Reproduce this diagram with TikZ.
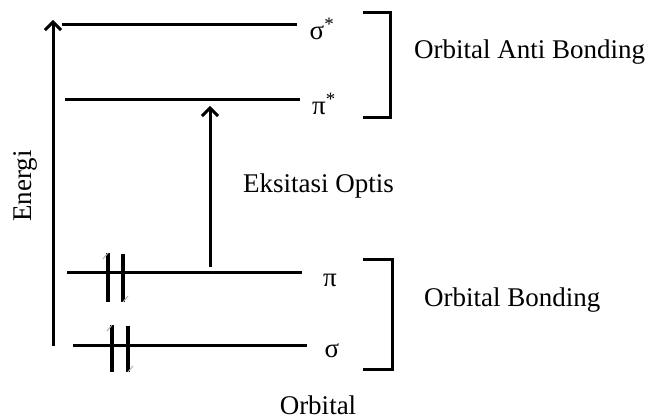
\documentclass[tikz,border=0pt]{standalone}
\usepackage{fontspec}
\setmainfont{Liberation Serif}
\usetikzlibrary{arrows.meta}
\begin{document}
\begin{tikzpicture}[x=1pt,y=-1pt,
  level/.style={line width=3pt},
  spin/.style={line width=3.5pt},
  hook/.style={line width=1pt,gray!60},
  brack/.style={line width=3pt},
  lbl/.style={font=\fontsize{27}{30}\selectfont,inner sep=0pt},
  sym/.style={font=\fontsize{27}{30}\selectfont,inner sep=0pt},
  arr/.style={line width=3pt,-{Straight Barb[length=8pt,width=16pt,line width=3pt]}}]
\useasboundingbox (0,0) rectangle (657,419);
% levels
\coordinate (s1a) at (62,25);  \coordinate (s1b) at (297,25);
\coordinate (p1a) at (65,100); \coordinate (p1b) at (300,100);
\coordinate (pa) at (67,273);  \coordinate (pb) at (302,273);
\coordinate (sa) at (73,346);  \coordinate (sb) at (307,346);
\draw[level] (s1a) -- (s1b);
\draw[level] (p1a) -- (p1b);
\draw[level] (pa) -- (pb);
\draw[level] (sa) -- (sb);
\node[sym] (ls1) at (322,29) {σ\textsuperscript{*}};
\node[sym] (lp1) at (324,104) {π\textsuperscript{*}};
\node[sym] (lp) at (330,280) {π};
\node[sym] (ls) at (332,351) {σ};
% energy axis
\coordinate (e0) at (53,346); \coordinate (e1) at (53,20);
\draw[arr] (e0) -- (e1);
\node[lbl,rotate=90] (en) at (25,186) {Energi};
% excitation
\coordinate (x0) at (210,267); \coordinate (x1) at (210,106);
\draw[arr] (x0) -- (x1);
\node[lbl,anchor=west] (ex) at (243,186) {Eksitasi Optis};
% electrons on pi
\coordinate (e1a) at (108,253); \coordinate (e1b) at (108,302);
\coordinate (e2a) at (123,254); \coordinate (e2b) at (123,302);
\draw[spin] (e1a) -- (e1b);
\draw[spin] (e2a) -- (e2b);
\draw[hook] (e1a) -- ++(-5,6);
\draw[hook] (e2b) -- ++(5,-6);
% electrons on sigma
\coordinate (e3a) at (112,325); \coordinate (e3b) at (112,372);
\coordinate (e4a) at (128,326); \coordinate (e4b) at (128,372);
\draw[spin] (e3a) -- (e3b);
\draw[spin] (e4a) -- (e4b);
\draw[hook] (e3a) -- ++(-5,6);
\draw[hook] (e4b) -- ++(5,-6);
% brackets
\coordinate (b1a) at (363,13); \coordinate (b1b) at (390,13);
\coordinate (b1c) at (390,118); \coordinate (b1d) at (363,118);
\draw[brack] (b1a) -- (b1b) -- (b1c) -- (b1d);
\coordinate (b2a) at (363,260); \coordinate (b2b) at (392,260);
\coordinate (b2c) at (392,370); \coordinate (b2d) at (363,370);
\draw[brack] (b2a) -- (b2b) -- (b2c) -- (b2d);
\node[lbl,anchor=west] (anti) at (414,52) {Orbital Anti Bonding};
\node[lbl,anchor=west] (bond) at (424,300) {Orbital Bonding};
\node[lbl] (orb) at (318,405) {Orbital};
\end{tikzpicture}
\end{document}
